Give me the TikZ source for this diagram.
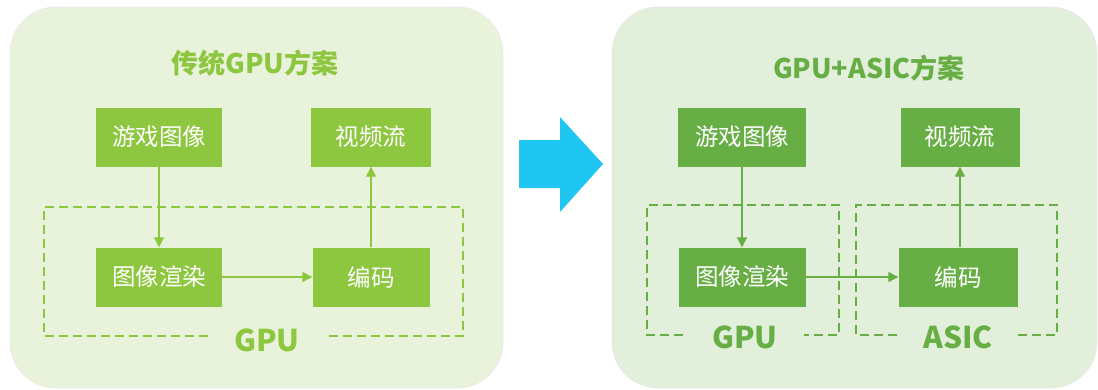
\documentclass[tikz,border=0pt]{standalone}
\usepackage{fontspec}
\setmainfont{Noto Sans CJK SC}
\usepackage{tikz}
\usetikzlibrary{arrows.meta, positioning}

\definecolor{leftbg}{HTML}{E9F3DB}
\definecolor{rightbg}{HTML}{E1EFDB}
\definecolor{leftgreen}{HTML}{8DC63F}
\definecolor{rightgreen}{HTML}{67AE45}
\definecolor{arrowblue}{HTML}{1FC6F2}

\begin{document}
\begin{tikzpicture}[
    x=1pt, y=-1pt,
    % Panels
    panel/.style={rounded corners=46pt, draw=black!8, line width=0.8pt},
    % Process boxes
    procbox/.style={rectangle, inner sep=0pt, text=white, font=\fontsize{23.5}{23.5}\selectfont,
                    minimum height=59pt},
    title/.style={font=\bfseries\fontsize{27}{27}\selectfont},
    chip/.style={font=\bfseries\fontsize{30}{30}\selectfont},
    % Flow arrows
    arrow/.style={-{Triangle[length=10pt, width=10pt]}, line width=1.4pt},
    dashbox/.style={dashed, dash pattern=on 9pt off 5pt, line width=2.2pt}
]
\useasboundingbox (0,0) rectangle (1098,389);

% === PANELS ===
\draw[panel, fill=leftbg] (10,7) rectangle (503,388);
\draw[panel, fill=rightbg] (612,7) rectangle (1097,388);

% === BIG ARROW ===
\fill[arrowblue] (519,140) -- (560,140) -- (560,117) -- (603,164)
    -- (560,212) -- (560,188) -- (519,188) -- cycle;

% === LEFT: traditional GPU ===
\node[title, text=leftgreen] (titleL) at (255,63) {传统GPU方案};

\node[procbox, fill=leftgreen, minimum width=126pt] (gameL) at (159,137) {游戏图像};
\node[procbox, fill=leftgreen, minimum width=120pt] (streamL) at (371,137) {视频流};
\node[procbox, fill=leftgreen, minimum width=126pt] (renderL) at (159,277) {图像渲染};
\node[procbox, fill=leftgreen, minimum width=117pt] (encodeL) at (371,277) {编码};

\node[chip, text=leftgreen] (gpuL) at (267,340) {GPU};
\draw[dashbox, leftgreen] (208,336) -| (44,207) -| (463,336) -- (327,336);

\draw[arrow, leftgreen] (gameL) -- (renderL);
\draw[arrow, leftgreen] (renderL) -- (encodeL);
\draw[arrow, leftgreen] (encodeL) -- (streamL);

% === RIGHT: GPU + ASIC ===
\node[title, text=rightgreen] (titleR) at (869,68) {GPU+ASIC方案};

\node[procbox, fill=rightgreen, minimum width=128pt] (gameR) at (742,137) {游戏图像};
\node[procbox, fill=rightgreen, minimum width=119pt] (streamR) at (960,137) {视频流};
\node[procbox, fill=rightgreen, minimum width=127pt] (renderR) at (742,277) {图像渲染};
\node[procbox, fill=rightgreen, minimum width=119pt] (encodeR) at (958,277) {编码};

\node[chip, text=rightgreen] (gpuR) at (745,337) {GPU};
\node[chip, text=rightgreen] (asicR) at (958,337) {ASIC};
\draw[dashbox, rightgreen] (683,335) -| (647,205) -| (839,335) -- (804,335);
\draw[dashbox, rightgreen] (897,335) -| (856,205) -| (1057,335) -- (1018,335);

\draw[arrow, rightgreen] (gameR) -- (renderR);
\draw[arrow, rightgreen] (renderR) -- (encodeR);
\draw[arrow, rightgreen] (encodeR.north -| streamR) -- (streamR);

\end{tikzpicture}
\end{document}
